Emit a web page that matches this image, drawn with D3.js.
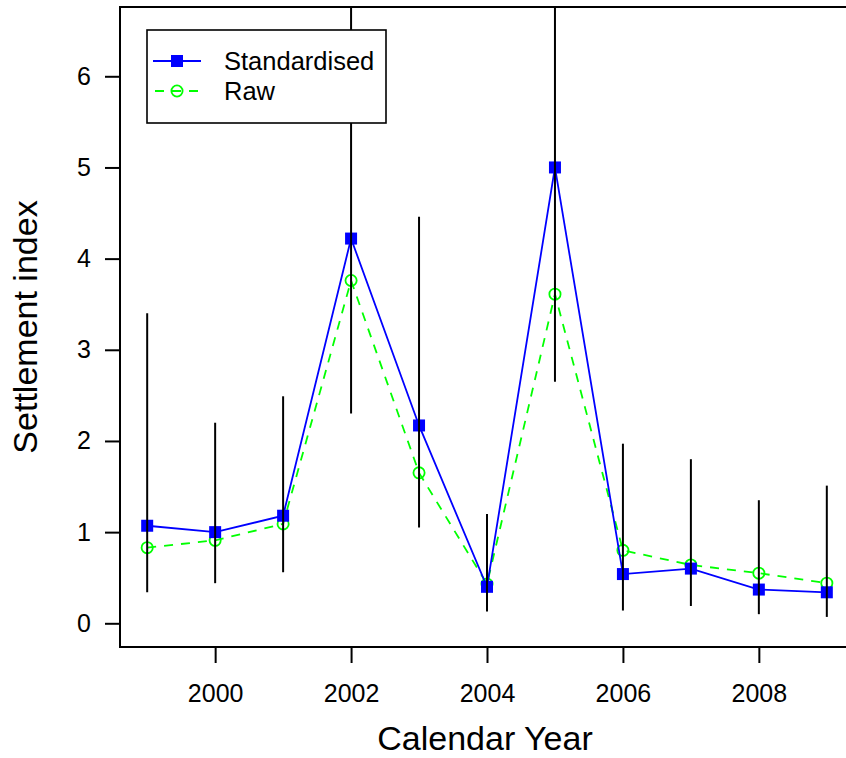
<!DOCTYPE html>
<html>
<head>
<meta charset="utf-8">
<script src="https://cdn.jsdelivr.net/npm/d3@7"></script>
<style>
  html, body { margin: 0; padding: 0; background: #fff; }
  svg { display: block; }
  text { font-family: "Liberation Sans", Arial, Helvetica, sans-serif; fill: #000; }
</style>
</head>
<body>
<div id="chart"></div>
<script>
// Settlement index by calendar year, with confidence intervals
const years = [1999, 2000, 2001, 2002, 2003, 2004, 2005, 2006, 2007, 2008, 2009];
const standardised = [1.07, 1.00, 1.18, 4.22, 2.17, 0.40, 5.00, 0.54, 0.60, 0.37, 0.34];
const raw = [0.83, 0.91, 1.09, 3.76, 1.65, 0.43, 3.61, 0.80, 0.64, 0.55, 0.44];
const lower = [0.34, 0.44, 0.56, 2.30, 1.05, 0.13, 2.65, 0.14, 0.19, 0.10, 0.07];
const upper = [3.40, 2.20, 2.49, 7.90, 4.46, 1.20, 8.60, 1.97, 1.80, 1.35, 1.51];
const xTicks = [2000, 2002, 2004, 2006, 2008];
const yTicks = [0, 1, 2, 3, 4, 5, 6];
const seriesNames = ["Standardised", "Raw"];

const W = 846, H = 758;
const plot = { left: 120, top: 7, right: 854, bottom: 647 };

const svg = d3.select("#chart").append("svg")
  .attr("width", W).attr("height", H);

const x = d3.scaleLinear().domain([1998.6, 2009.4]).range([plot.left, plot.right]);
const y = d3.scaleLinear().domain([-0.26, 6.76]).range([plot.bottom, plot.top]);

svg.append("clipPath").attr("id", "plot-clip")
  .append("rect")
  .attr("x", plot.left).attr("y", plot.top)
  .attr("width", plot.right - plot.left).attr("height", plot.bottom - plot.top);

const g = svg.append("g").attr("clip-path", "url(#plot-clip)");

const rows = years.map((yr, i) => ({ yr, s: standardised[i], r: raw[i], lo: lower[i], hi: upper[i] }));

// Raw series: dashed green line with open circles
g.append("path")
  .datum(rows)
  .attr("fill", "none")
  .attr("stroke", "#00ff00")
  .attr("stroke-width", 1.8)
  .attr("stroke-dasharray", "9,8")
  .attr("d", d3.line().x(d => x(d.yr)).y(d => y(d.r)));

g.selectAll("circle.raw").data(rows).join("circle")
  .attr("class", "raw")
  .attr("cx", d => x(d.yr)).attr("cy", d => y(d.r))
  .attr("r", 5.6)
  .attr("fill", "none").attr("stroke", "#00ff00").attr("stroke-width", 1.8);

// Standardised series: solid blue line with filled squares
g.append("path")
  .datum(rows)
  .attr("fill", "none")
  .attr("stroke", "#0000ff")
  .attr("stroke-width", 1.8)
  .attr("d", d3.line().x(d => x(d.yr)).y(d => y(d.s)));

const sq = 12;
g.selectAll("rect.std").data(rows).join("rect")
  .attr("class", "std")
  .attr("x", d => x(d.yr) - sq / 2).attr("y", d => y(d.s) - sq / 2)
  .attr("width", sq).attr("height", sq)
  .attr("fill", "#0000ff");

// Interval bars drawn over the points
g.selectAll("line.ci").data(rows).join("line")
  .attr("class", "ci")
  .attr("x1", d => x(d.yr)).attr("x2", d => x(d.yr))
  .attr("y1", d => y(d.lo)).attr("y2", d => y(d.hi))
  .attr("stroke", "#000").attr("stroke-width", 2);

// Axes
const xAxis = svg.append("g")
  .attr("transform", `translate(0,${plot.bottom})`)
  .call(d3.axisBottom(x).tickValues(xTicks).tickFormat(d3.format("d")).tickSize(16).tickPadding(21));
xAxis.select(".domain").remove();
xAxis.selectAll(".tick line").attr("stroke", "#000").attr("stroke-width", 2);
xAxis.selectAll(".tick text").style("font-size", "25px")
  .style("font-family", "'Liberation Sans', Arial, sans-serif");

const yAxis = svg.append("g")
  .attr("transform", `translate(${plot.left},0)`)
  .call(d3.axisLeft(y).tickValues(yTicks).tickFormat(d3.format("d")).tickSize(15).tickPadding(14));
yAxis.select(".domain").remove();
yAxis.selectAll(".tick line").attr("stroke", "#000").attr("stroke-width", 2);
yAxis.selectAll(".tick text").style("font-size", "25px")
  .style("font-family", "'Liberation Sans', Arial, sans-serif");

// Plot frame
svg.append("rect")
  .attr("x", plot.left).attr("y", plot.top)
  .attr("width", plot.right - plot.left).attr("height", plot.bottom - plot.top)
  .attr("fill", "none").attr("stroke", "#000").attr("stroke-width", 2);

// Axis titles
svg.append("text")
  .attr("x", 485).attr("y", 750)
  .attr("text-anchor", "middle")
  .style("font-size", "34px")
  .text("Calendar Year");

svg.append("text")
  .attr("transform", `translate(37,${(plot.top + plot.bottom) / 2}) rotate(-90)`)
  .attr("text-anchor", "middle")
  .style("font-size", "34px")
  .text("Settlement index");

// Legend
const lg = svg.append("g");
lg.append("rect")
  .attr("x", 147).attr("y", 30).attr("width", 239).attr("height", 93)
  .attr("fill", "#fff").attr("stroke", "#000").attr("stroke-width", 1.6);

const rowY = [61, 91];
lg.append("line")
  .attr("x1", 153).attr("x2", 201).attr("y1", rowY[0]).attr("y2", rowY[0])
  .attr("stroke", "#0000ff").attr("stroke-width", 1.8);
lg.append("rect")
  .attr("x", 177 - sq / 2).attr("y", rowY[0] - sq / 2).attr("width", sq).attr("height", sq)
  .attr("fill", "#0000ff");
lg.append("line")
  .attr("x1", 153).attr("x2", 201).attr("y1", rowY[1]).attr("y2", rowY[1])
  .attr("stroke", "#00ff00").attr("stroke-width", 1.8).attr("stroke-dasharray", "9,8")
  .attr("stroke-dashoffset", -2);
lg.append("circle")
  .attr("cx", 177).attr("cy", rowY[1]).attr("r", 5.6)
  .attr("fill", "none").attr("stroke", "#00ff00").attr("stroke-width", 1.8);

lg.selectAll("text.lab").data(seriesNames).join("text")
  .attr("class", "lab")
  .attr("x", 224).attr("y", (d, i) => rowY[i] + 9)
  .style("font-size", "25.5px")
  .text(d => d);
</script>
</body>
</html>
